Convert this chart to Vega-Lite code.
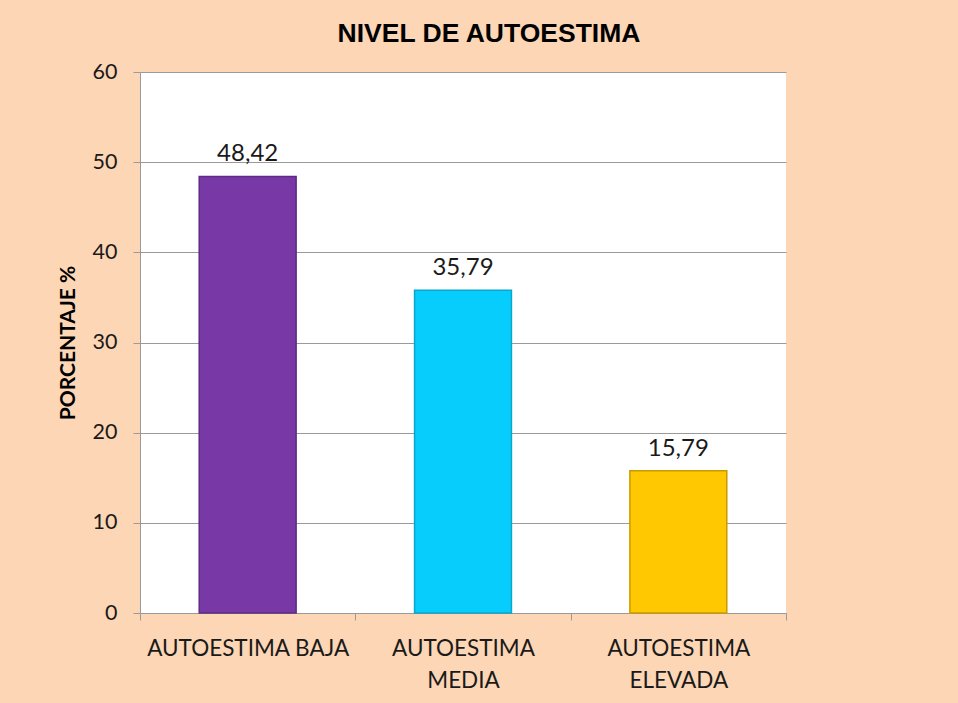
{
  "$schema": "https://vega.github.io/schema/vega-lite/v6.json",
  "width": 646,
  "height": 541,
  "autosize": {"type": "none"},
  "padding": {"left": 140, "top": 72, "right": 172, "bottom": 90},
  "background": "#fdd6b5",
  "config": {
    "locale": {"number": {"decimal": ",", "thousands": ".", "grouping": [3], "currency": ["", " €"]}},
    "view": {"fill": "white", "stroke": null}
  },
  "title": {
    "text": "NIVEL DE AUTOESTIMA",
    "font": "Liberation Sans",
    "fontSize": 26.5,
    "fontWeight": "bold",
    "color": "#000000",
    "anchor": "middle",
    "dx": 26,
    "baseline": "alphabetic",
    "offset": -7
  },
  "data": {
    "values": [
      {"nivel": "AUTOESTIMA BAJA", "porcentaje": 48.42},
      {"nivel": "AUTOESTIMA MEDIA", "porcentaje": 35.79},
      {"nivel": "AUTOESTIMA ELEVADA", "porcentaje": 15.79}
    ]
  },
  "encoding": {
    "x": {
      "field": "nivel",
      "type": "nominal",
      "sort": null,
      "scale": {"paddingInner": 0, "paddingOuter": 0},
      "axis": {
        "title": null,
        "labelAngle": 0,
        "labelExpr": "!isValid(datum.value) ? '' : datum.value == 'AUTOESTIMA BAJA' ? datum.value : split(datum.value, ' ')",
        "labelFont": "Lato",
        "labelFontSize": 22.5,
        "labelLineHeight": 32,
        "labelLimit": 400,
        "labelColor": "#1a1a1a",
        "labelPadding": 17,
        "tickBand": "extent",
        "ticks": true,
        "tickSize": 7,
        "tickColor": "#9a9a9a",
        "domainColor": "#9a9a9a",
        "grid": false
      }
    },
    "y": {
      "field": "porcentaje",
      "type": "quantitative",
      "scale": {"domain": [0, 60], "nice": false},
      "axis": {
        "title": "PORCENTAJE %",
        "titleFont": "Lato",
        "titleFontSize": 21,
        "titleFontWeight": "bold",
        "titleColor": "#000000",
        "titlePadding": 14,
        "values": [0, 10, 20, 30, 40, 50, 60],
        "labelFont": "Lato",
        "labelFontSize": 21.5,
        "labelColor": "#1a1a1a",
        "labelPadding": 16,
        "tickSize": 7,
        "tickColor": "#9a9a9a",
        "domainColor": "#9a9a9a",
        "grid": true,
        "gridColor": "#9a9a9a"
      }
    }
  },
  "layer": [
    {
      "mark": {"type": "bar", "width": {"band": 0.45}, "strokeWidth": 1.5},
      "encoding": {
        "fill": {
          "field": "nivel",
          "type": "nominal",
          "sort": null,
          "scale": {"range": ["#7838a6", "#06cdfb", "#ffc800"]},
          "legend": null
        },
        "stroke": {
          "field": "nivel",
          "type": "nominal",
          "sort": null,
          "scale": {"range": ["#5e2a85", "#0aa6cc", "#c99a00"]},
          "legend": null
        }
      }
    },
    {
      "mark": {"type": "text", "baseline": "alphabetic", "dy": -15, "font": "Lato", "fontSize": 24, "fill": "#1a1a1a"},
      "encoding": {
        "text": {"field": "porcentaje", "type": "quantitative", "format": ".2f"}
      }
    }
  ]
}
